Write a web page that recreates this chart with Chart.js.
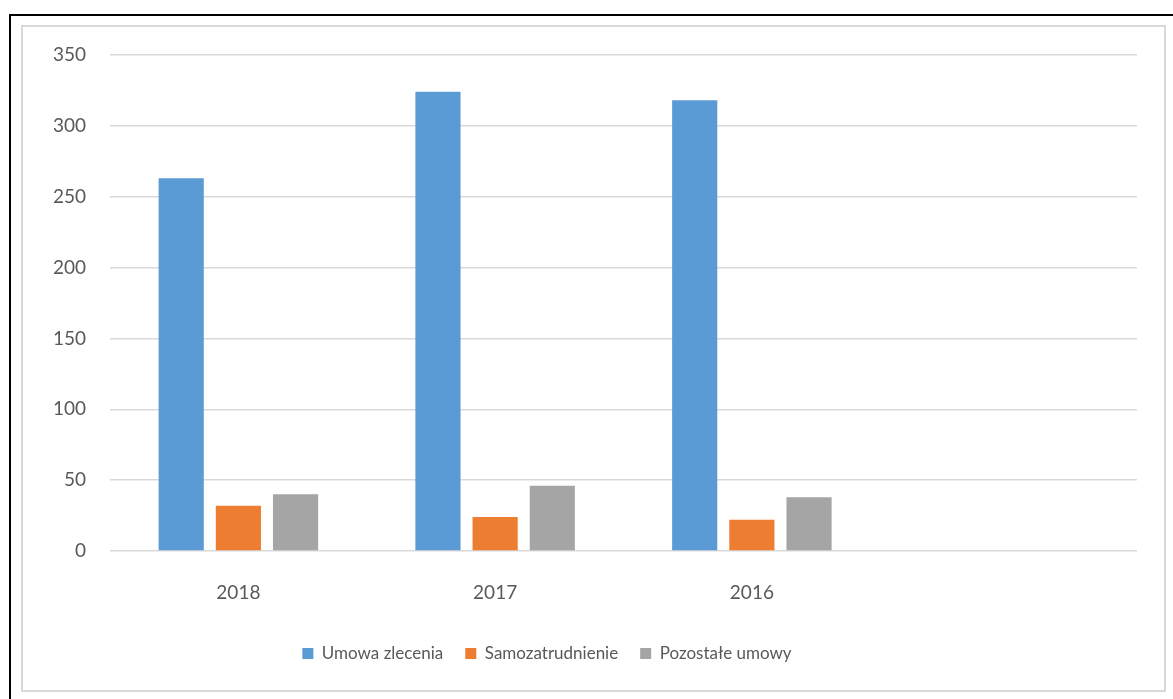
<!DOCTYPE html>
<html>
<head>
<meta charset="utf-8">
<script src="https://cdn.jsdelivr.net/npm/chart.js@4"></script>
<style>
    body { margin: 0; background: #fff; overflow: hidden; }
    #frame { position: absolute; left: 9px; top: 14px; width: 1200px; height: 720px;
             border-left: 2px solid #000; border-top: 2px solid #000; }
    #box { position: absolute; left: 21px; top: 25px; width: 1141px; height: 663px;
           border: 2px solid #d9d9d9; }
    #chart-wrap { position: absolute; left: 23px; top: 27px; width: 1141px; height: 663px; }
</style>
</head>
<body>
<div id="frame"></div>
<div id="box"></div>
<div id="chart-wrap"><canvas id="jobs-chart"></canvas></div>
<script>
// years shown on the x axis (last slot is empty, as in the original)
const years = ['2018', '2017', '2016', ''];
const umowaZlecenia = [263, 324, 318, null];
const samozatrudnienie = [32, 24, 22, null];
const pozostaleUmowy = [40, 46, 38, null];
const yTicks = [0, 50, 100, 150, 200, 250, 300, 350];

document.addEventListener('DOMContentLoaded', () => {
    renderJobsChart();
});

function renderJobsChart() {
    const ctx = document.getElementById('jobs-chart').getContext('2d');
    const textColor = '#595959';

    // nudge the legend left a bit, like the excel original
    const legendShift = {
        id: 'legendShift',
        afterLayout(chart) {
            chart.legend.left -= 33;
            chart.legend.right -= 33;
        }
    };

    new Chart(ctx, {
        type: 'bar',
        data: {
            labels: years,
            datasets: [
                { label: 'Umowa zlecenia', data: umowaZlecenia, backgroundColor: '#5B9BD5' },
                { label: 'Samozatrudnienie', data: samozatrudnienie, backgroundColor: '#ED7D31' },
                { label: 'Pozostałe umowy', data: pozostaleUmowy, backgroundColor: '#A5A5A5' }
            ]
        },
        options: {
            responsive: true,
            maintainAspectRatio: false,
            animation: false,
            datasets: {
                bar: { categoryPercentage: 0.668, barPercentage: 0.79 }
            },
            layout: { padding: { top: 28, right: 27, bottom: 18, left: 0 } },
            plugins: {
                legend: {
                    position: 'bottom',
                    labels: {
                        boxWidth: 11,
                        boxHeight: 11,
                        padding: 22,
                        color: textColor,
                        font: { family: 'Lato', size: 17 }
                    }
                },
                tooltip: { enabled: false }
            },
            scales: {
                x: {
                    grid: { display: false, drawTicks: false },
                    border: { display: false },
                    ticks: { color: textColor, padding: 30, font: { family: 'Lato', size: 19 } },
                    afterFit: (scale) => { scale.height = 72; }
                },
                y: {
                    min: 0,
                    max: 350,
                    afterBuildTicks: (scale) => { scale.ticks = yTicks.map(v => ({ value: v })); },
                    grid: { color: '#d9d9d9', lineWidth: 1.5, drawTicks: false },
                    border: { display: false },
                    ticks: { color: textColor, padding: 24, font: { family: 'Lato', size: 19 } },
                    afterFit: (scale) => {
                        scale.width = 87;
                        // tick padding would otherwise push the plot top down
                        scale.paddingTop = 0;
                        scale.paddingBottom = 0;
                    }
                }
            }
        },
        plugins: [legendShift]
    });
}
</script>
</body>
</html>
